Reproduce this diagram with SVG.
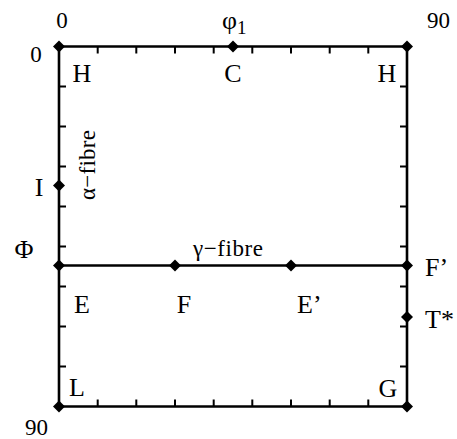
<svg xmlns="http://www.w3.org/2000/svg" width="457" height="439" viewBox="0 0 457 439">
<defs>
<style>
.edge{stroke:#000;stroke-width:2.6;fill:none;stroke-linecap:square}
.tick{stroke:#000;stroke-width:2;fill:none}
.lbl{font-family:"Liberation Serif","Times New Roman",serif;font-size:26px;fill:#000}
.num{font-family:"Liberation Serif","Times New Roman",serif;font-size:23px;fill:#000}
.fib{font-family:"Liberation Serif","Times New Roman",serif;font-size:23px;fill:#000}
</style>
<polygon id="dia" points="0,-6 6,0 0,6 -6,0" fill="#000"/>
</defs>
<g id="connectors">
<path class="edge" d="M59,46.5 H407 V406.5 H59 Z"/>
<path class="edge" d="M59,265.5 H407"/>
<path class="tick" d="M97.7,46.5v7M136.3,46.5v7M175,46.5v7M213.7,46.5v7M252.3,46.5v7M291,46.5v7M329.7,46.5v7M368.3,46.5v7"/>
<path class="tick" d="M97.7,406.5v-7M136.3,406.5v-7M175,406.5v-7M213.7,406.5v-7M252.3,406.5v-7M291,406.5v-7M329.7,406.5v-7M368.3,406.5v-7"/>
<path class="tick" d="M59,86.5h7M59,126.5h7M59,166.5h7M59,206.5h7M59,246.5h7M59,286.5h7M59,326.5h7M59,366.5h7"/>
<path class="tick" d="M407,86.5h-7M407,126.5h-7M407,166.5h-7M407,206.5h-7M407,246.5h-7M407,286.5h-7M407,326.5h-7M407,366.5h-7"/>
</g>
<g id="axis-labels">
<text class="num" x="62" y="28" text-anchor="middle">0</text>
<text class="num" x="36" y="62" text-anchor="middle">0</text>
<text class="num" x="427" y="28" textLength="23">90</text>
<text class="num" x="25" y="435" textLength="23">90</text>
<text class="lbl" x="222" y="29" font-size="28">φ<tspan font-size="19" dy="5">1</tspan></text>
<text class="lbl" x="24" y="258" text-anchor="middle" font-size="29">Φ</text>
</g>
<g id="node-H1"><use href="#dia" x="59" y="46.5"/><text class="lbl" x="82" y="82" text-anchor="middle">H</text></g>
<g id="node-C"><use href="#dia" x="233" y="46.5"/><text class="lbl" x="233" y="82" text-anchor="middle">C</text></g>
<g id="node-H2"><use href="#dia" x="407" y="46.5"/><text class="lbl" x="387" y="82" text-anchor="middle">H</text></g>
<g id="node-I"><use href="#dia" x="59" y="185.5"/><text class="lbl" x="39" y="196" text-anchor="middle">I</text></g>
<g id="alpha-fibre"><text class="fib" transform="translate(95,165) rotate(-90)" text-anchor="middle" textLength="70">α−fibre</text></g>
<g id="gamma-fibre"><text class="fib" x="193" y="256" textLength="70">γ−fibre</text></g>
<g id="node-E"><use href="#dia" x="59" y="265.5"/><text class="lbl" x="82" y="313" text-anchor="middle">E</text></g>
<g id="node-F"><use href="#dia" x="175" y="265.5"/><text class="lbl" x="184" y="313" text-anchor="middle">F</text></g>
<g id="node-E2"><use href="#dia" x="291" y="265.5"/><text class="lbl" x="297" y="313">E’</text></g>
<g id="node-F2"><use href="#dia" x="407" y="265.5"/><text class="lbl" x="425" y="276">F’</text></g>
<g id="node-T"><use href="#dia" x="407" y="317"/><text class="lbl" x="425" y="328">T*</text></g>
<g id="node-L"><use href="#dia" x="59" y="406.5"/><text class="lbl" x="77" y="396" text-anchor="middle">L</text></g>
<g id="node-G"><use href="#dia" x="407" y="406.5"/><text class="lbl" x="388" y="397" text-anchor="middle">G</text></g>
</svg>
